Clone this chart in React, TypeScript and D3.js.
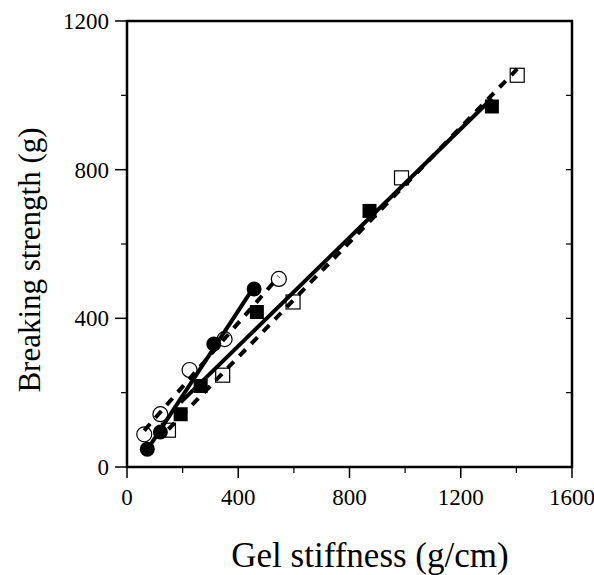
import React from "react";
import * as d3 from "d3";

const filledCircleX = [73, 120, 312, 457];
const filledCircleY = [48, 94, 331, 479];
const openCircleX = [62, 120, 225, 351, 546];
const openCircleY = [88, 142, 261, 344, 506];
const filledSquareX = [193, 265, 467, 872, 1312];
const filledSquareY = [142, 218, 417, 689, 970];
const openSquareX = [149, 344, 597, 987, 1403];
const openSquareY = [99, 247, 444, 778, 1054];

const xTicks = [0, 400, 800, 1200, 1600];
const xMinor = [200, 600, 1000, 1400];
const yTicks = [0, 400, 800, 1200];
const yMinor = [200, 600, 1000];

const W = 594, H = 575;
const margin = { left: 127, right: 24, top: 21, bottom: 108 };

function fit(xs: number[], ys: number[]) {
  const mx = d3.mean(xs)!, my = d3.mean(ys)!;
  let sxy = 0, sxx = 0;
  xs.forEach((x, i) => { sxy += (x - mx) * (ys[i] - my); sxx += (x - mx) * (x - mx); });
  const b = sxy / sxx;
  const a = my - b * mx;
  const x0 = d3.min(xs)!, x1 = d3.max(xs)!;
  return [[x0, a + b * x0], [x1, a + b * x1]] as [number, number][];
}

const font = '"Liberation Serif", "Times New Roman", Times, serif';

export default function App() {
  const x = d3.scaleLinear().domain([0, 1600]).range([margin.left, W - margin.right + 2]);
  const y = d3.scaleLinear().domain([0, 1200]).range([H - margin.bottom, margin.top]);
  const line = d3.line<[number, number]>().x(d => x(d[0])).y(d => y(d[1]));
  const x0 = x(0), x1 = x(1600), y0 = y(0), y1 = y(1200);

  const series = [
    { xs: openSquareX, ys: openSquareY, dash: "9,8" },
    { xs: openCircleX, ys: openCircleY, dash: "9,8" },
    { xs: filledSquareX, ys: filledSquareY, dash: null },
    { xs: filledCircleX, ys: filledCircleY, dash: null },
  ];

  return (
    <svg width={W} height={H} style={{ position: "absolute", left: 0, top: 0, background: "#fff", fontFamily: font }}>
      <rect x={0} y={0} width={W} height={H} fill="#fff" />
      {series.map((s, i) => (
        <path key={i} d={line(fit(s.xs, s.ys))!} fill="none" stroke="#000" strokeWidth={4}
          strokeDasharray={s.dash ?? undefined} />
      ))}
      {openSquareX.map((v, i) => (
        <rect key={"os" + i} x={x(v) - 7} y={y(openSquareY[i]) - 7} width={14} height={14}
          fill="none" stroke="#000" strokeWidth={1.2} />
      ))}
      {openCircleX.map((v, i) => (
        <circle key={"oc" + i} cx={x(v)} cy={y(openCircleY[i])} r={7.5}
          fill="none" stroke="#000" strokeWidth={1.2} />
      ))}
      {filledSquareX.map((v, i) => (
        <rect key={"fs" + i} x={x(v) - 7} y={y(filledSquareY[i]) - 7} width={14} height={14} fill="#000" />
      ))}
      {filledCircleX.map((v, i) => (
        <circle key={"fc" + i} cx={x(v)} cy={y(filledCircleY[i])} r={7.5} fill="#000" />
      ))}
      <rect x={x0} y={y1} width={x1 - x0} height={y0 - y1} fill="none" stroke="#000" strokeWidth={2.5} />
      {xTicks.map(t => (
        <g key={"xt" + t}>
          <line x1={x(t)} x2={x(t)} y1={y0} y2={y0 + 11} stroke="#000" strokeWidth={1.5} />
          <text x={x(t)} y={y0 + 38} textAnchor="middle" fontFamily={font} fontSize={23}>{t}</text>
        </g>
      ))}
      {xMinor.map(t => (
        <line key={"xm" + t} x1={x(t)} x2={x(t)} y1={y0} y2={y0 + 6} stroke="#000" strokeWidth={1.2} />
      ))}
      {yTicks.map(t => (
        <g key={"yt" + t}>
          <line x1={x0 - 12} x2={x0} y1={y(t)} y2={y(t)} stroke="#000" strokeWidth={1.5} />
          <text x={x0 - 18} y={y(t) + 8} textAnchor="end" fontFamily={font} fontSize={23}>{t}</text>
        </g>
      ))}
      {yMinor.map(t => (
        <line key={"ym" + t} x1={x0 - 6} x2={x0} y1={y(t)} y2={y(t)} stroke="#000" strokeWidth={1.2} />
      ))}
      {[...yMinor, ...yTicks.filter(t => t > 0 && t < 1200)].map(t => (
        <line key={"yr" + t} x1={x1 - 6} x2={x1} y1={y(t)} y2={y(t)} stroke="#000" strokeWidth={1.2} />
      ))}
      <text x={370} y={567} textAnchor="middle" fontFamily={font} fontSize={35}>Gel stiffness (g/cm)</text>
      <text transform={`translate(40, 260) rotate(-90)`} textAnchor="middle" fontFamily={font} fontSize={31}>Breaking strength (g)</text>
    </svg>
  );
}
